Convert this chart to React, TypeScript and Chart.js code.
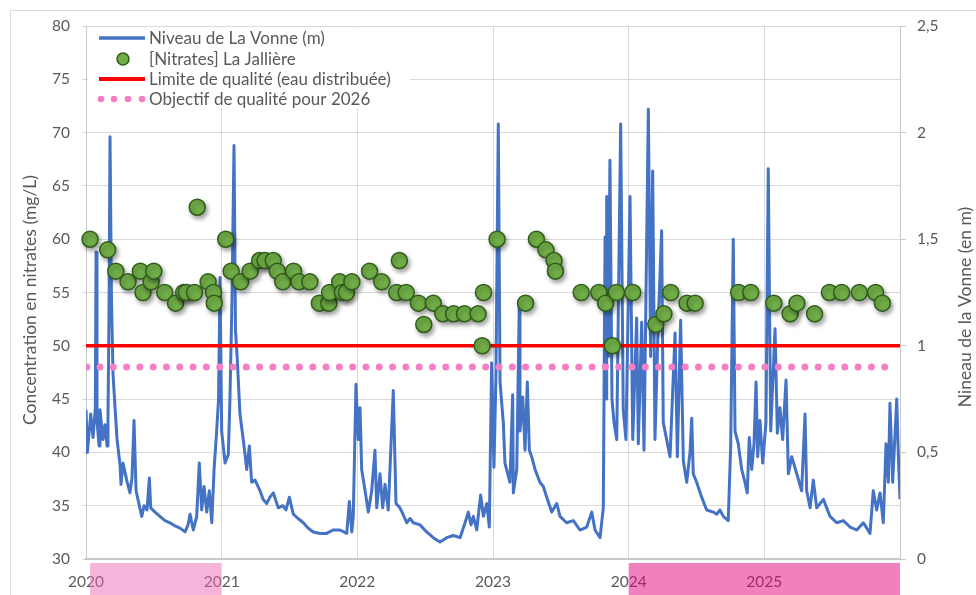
import React, { useEffect, useRef } from "react";
import { Chart, registerables } from "chart.js";

Chart.register(...registerables);

// ---- DATA ----
const yearTicks = [2020, 2021, 2022, 2023, 2024, 2025];
const leftTickValues = [30, 35, 40, 45, 50, 55, 60, 65, 70, 75, 80];
const rightTickLabels = ["0", "0,5", "1", "1,5", "2", "2,5"];

const qualityLimit = 50; // mg/L
const qualityObjective2026 = 48; // mg/L

// highlighted periods under the x axis [start, end]
const highlightPeriods = [
  [2020.03, 2021.0],
  [2024.0, 2026.0],
];
const highlightColors = ["rgba(240,105,182,0.5)", "rgba(226,2,126,0.5)"];

// [Nitrates] La Jallière : [year, mg/L]
const nitratePoints = [
  [2020.03, 60], [2020.16, 59], [2020.22, 57], [2020.31, 56], [2020.40, 57], [2020.42, 55],
  [2020.48, 56], [2020.50, 57], [2020.58, 55], [2020.66, 54], [2020.72, 55], [2020.74, 55],
  [2020.80, 55], [2020.82, 63], [2020.90, 56], [2020.94, 55], [2020.945, 54],
  [2021.03, 60], [2021.07, 57], [2021.14, 56], [2021.21, 57], [2021.28, 58], [2021.32, 58],
  [2021.38, 58], [2021.41, 57], [2021.45, 56], [2021.53, 57], [2021.57, 56], [2021.65, 56],
  [2021.72, 54], [2021.79, 54], [2021.795, 55], [2021.87, 56], [2021.89, 55], [2021.92, 55],
  [2021.96, 56],
  [2022.09, 57], [2022.18, 56], [2022.31, 58], [2022.29, 55], [2022.36, 55], [2022.45, 54],
  [2022.49, 52], [2022.56, 54], [2022.63, 53], [2022.71, 53], [2022.79, 53], [2022.89, 53],
  [2022.93, 55], [2022.92, 50],
  [2023.03, 60], [2023.24, 54], [2023.32, 60], [2023.39, 59], [2023.45, 58], [2023.46, 57],
  [2023.65, 55], [2023.78, 55], [2023.83, 54], [2023.88, 50], [2023.91, 55],
  [2024.03, 55], [2024.20, 52], [2024.26, 53], [2024.31, 55], [2024.43, 54], [2024.49, 54],
  [2024.81, 55], [2024.90, 55],
  [2025.07, 54], [2025.19, 53], [2025.24, 54], [2025.37, 53], [2025.48, 55], [2025.57, 55],
  [2025.70, 55], [2025.82, 55], [2025.87, 54],
];

// Niveau de La Vonne : [year, m]
const levelPoints = [
  [2020.000, 0.70], [2020.010, 0.50], [2020.035, 0.68], [2020.052, 0.57], [2020.069, 0.71],
  [2020.074, 1.44], [2020.081, 0.65], [2020.096, 0.53], [2020.103, 0.70], [2020.125, 0.56],
  [2020.140, 0.63], [2020.155, 0.53], [2020.162, 0.65], [2020.170, 1.18], [2020.177, 1.98],
  [2020.188, 1.21], [2020.199, 0.87], [2020.214, 0.71], [2020.229, 0.56], [2020.251, 0.44],
  [2020.258, 0.35], [2020.273, 0.45], [2020.300, 0.37], [2020.324, 0.31], [2020.339, 0.38],
  [2020.354, 0.65], [2020.369, 0.32], [2020.383, 0.28], [2020.411, 0.20], [2020.428, 0.25],
  [2020.450, 0.23], [2020.467, 0.38], [2020.477, 0.24], [2020.509, 0.22], [2020.545, 0.20],
  [2020.582, 0.18], [2020.619, 0.17], [2020.656, 0.155], [2020.693, 0.145], [2020.730, 0.127],
  [2020.752, 0.16], [2020.767, 0.21], [2020.791, 0.136], [2020.816, 0.20], [2020.835, 0.45],
  [2020.853, 0.23], [2020.870, 0.34], [2020.890, 0.22], [2020.909, 0.32], [2020.927, 0.17],
  [2020.944, 0.42], [2020.963, 0.60], [2020.977, 0.75], [2020.988, 1.32], [2021.000, 0.60],
  [2021.025, 0.45], [2021.049, 0.49], [2021.061, 0.75], [2021.076, 1.21], [2021.091, 1.94],
  [2021.102, 1.07], [2021.113, 0.96], [2021.135, 0.68], [2021.159, 0.56], [2021.185, 0.42],
  [2021.204, 0.53], [2021.221, 0.36], [2021.246, 0.37], [2021.283, 0.32], [2021.305, 0.28],
  [2021.332, 0.26], [2021.356, 0.29], [2021.381, 0.31], [2021.417, 0.24], [2021.452, 0.25],
  [2021.474, 0.23], [2021.499, 0.29], [2021.528, 0.21], [2021.563, 0.19], [2021.602, 0.17],
  [2021.636, 0.145], [2021.675, 0.127], [2021.725, 0.12], [2021.774, 0.12], [2021.821, 0.136],
  [2021.872, 0.136], [2021.922, 0.12], [2021.941, 0.27], [2021.959, 0.127], [2021.970, 0.20],
  [2021.990, 0.82], [2022.007, 0.56], [2022.020, 0.71], [2022.032, 0.42], [2022.057, 0.32],
  [2022.081, 0.22], [2022.106, 0.32], [2022.130, 0.51], [2022.143, 0.24], [2022.167, 0.40],
  [2022.187, 0.24], [2022.204, 0.35], [2022.228, 0.23], [2022.265, 0.79], [2022.285, 0.26],
  [2022.314, 0.24], [2022.337, 0.21], [2022.364, 0.17], [2022.388, 0.19], [2022.413, 0.17],
  [2022.462, 0.16], [2022.511, 0.127], [2022.560, 0.10], [2022.609, 0.08], [2022.659, 0.10],
  [2022.707, 0.11], [2022.757, 0.10], [2022.794, 0.17], [2022.818, 0.22], [2022.838, 0.16],
  [2022.855, 0.20], [2022.880, 0.136], [2022.909, 0.30], [2022.929, 0.20], [2022.954, 0.26],
  [2022.973, 0.15], [2022.990, 0.92], [2023.007, 0.43], [2023.022, 0.87], [2023.039, 2.04],
  [2023.052, 0.83], [2023.076, 0.64], [2023.088, 0.45], [2023.125, 0.36], [2023.145, 0.77],
  [2023.150, 0.31], [2023.175, 0.42], [2023.194, 1.21], [2023.199, 0.60], [2023.219, 0.76],
  [2023.236, 0.51], [2023.253, 0.83], [2023.268, 0.51], [2023.285, 0.48], [2023.310, 0.42],
  [2023.346, 0.36], [2023.371, 0.34], [2023.396, 0.29], [2023.433, 0.22], [2023.470, 0.26],
  [2023.494, 0.20], [2023.543, 0.17], [2023.592, 0.18], [2023.641, 0.136], [2023.691, 0.15],
  [2023.728, 0.22], [2023.752, 0.136], [2023.789, 0.10], [2023.813, 0.24], [2023.826, 1.51],
  [2023.835, 0.75], [2023.838, 1.70], [2023.850, 0.95], [2023.862, 1.87], [2023.877, 0.75],
  [2023.892, 0.64], [2023.912, 0.56], [2023.941, 2.04], [2023.960, 0.70], [2023.980, 0.56],
  [2024.010, 1.70], [2024.030, 0.56], [2024.059, 1.13], [2024.071, 0.54], [2024.096, 1.11],
  [2024.113, 0.51], [2024.145, 2.11], [2024.162, 0.95], [2024.177, 1.82], [2024.194, 0.56],
  [2024.218, 1.11], [2024.243, 1.54], [2024.255, 0.64], [2024.280, 0.56], [2024.305, 0.48],
  [2024.342, 1.06], [2024.359, 0.48], [2024.383, 1.12], [2024.403, 0.46], [2024.428, 0.36],
  [2024.452, 0.50], [2024.465, 0.66], [2024.476, 0.40], [2024.501, 0.36], [2024.538, 0.29],
  [2024.575, 0.23], [2024.624, 0.22], [2024.649, 0.21], [2024.673, 0.23], [2024.698, 0.20],
  [2024.734, 0.18], [2024.752, 0.53], [2024.771, 1.50], [2024.784, 0.60], [2024.808, 0.54],
  [2024.833, 0.42], [2024.857, 0.36], [2024.874, 0.31], [2024.889, 0.57], [2024.907, 0.42],
  [2024.924, 0.54], [2024.939, 0.83], [2024.951, 0.48], [2024.968, 0.65], [2024.988, 0.45],
  [2025.012, 0.64], [2025.029, 1.83], [2025.047, 0.60], [2025.079, 1.08], [2025.096, 0.59],
  [2025.115, 0.71], [2025.135, 0.56], [2025.160, 0.84], [2025.177, 0.40], [2025.202, 0.48],
  [2025.239, 0.40], [2025.275, 0.32], [2025.300, 0.68], [2025.312, 0.32], [2025.337, 0.24],
  [2025.361, 0.37], [2025.386, 0.24], [2025.435, 0.28], [2025.484, 0.20], [2025.534, 0.17],
  [2025.582, 0.18], [2025.632, 0.15], [2025.681, 0.136], [2025.730, 0.17], [2025.779, 0.12],
  [2025.803, 0.32], [2025.828, 0.23], [2025.853, 0.31], [2025.877, 0.17], [2025.897, 0.54],
  [2025.914, 0.36], [2025.926, 0.73], [2025.946, 0.36], [2025.976, 0.75], [2025.988, 0.48],
  [2026.000, 0.28],
];

const legendLabels = [
  "Niveau de La Vonne (m)",
  "[Nitrates] La Jallière",
  "Limite de qualité (eau distribuée)",
  "Objectif de qualité pour 2026",
];
const leftAxisTitle = "Concentration en nitrates (mg/L)";
const rightAxisTitle = "Nineau de la Vonne (en m)";

// ---- STYLE ----
const FONT = "Lato, 'Open Sans', sans-serif";
const TEXT = "#595959";
const GRID = "#d9d9d9";
const BLUE = "#4472C4";
const GREEN = "#70AD47";
const GREEN_DARK = "#2F5D1A";
const RED = "#FF0000";
const PINK = "#F47FC4";

const decorPlugin = {
  id: "decor",
  beforeDraw(chart: any) {
    const ctx = chart.ctx;
    ctx.save();
    ctx.fillStyle = "#ffffff";
    ctx.fillRect(0, 0, chart.width, chart.height);
    ctx.strokeStyle = "#d9d9d9";
    ctx.lineWidth = 1;
    ctx.strokeRect(10.5, 10.5, chart.width + 10, chart.height + 10);
    ctx.restore();
  },
  beforeDatasetDraw(chart: any, args: any) {
    if (args.index === 3) {
      const ctx = chart.ctx;
      ctx.save();
      ctx.shadowColor = "rgba(0,0,0,0.35)";
      ctx.shadowBlur = 4;
      ctx.shadowOffsetX = 2;
      ctx.shadowOffsetY = 3;
    }
  },
  afterDatasetDraw(chart: any, args: any) {
    if (args.index === 3) chart.ctx.restore();
  },
  afterDraw(chart: any) {
    const ctx = chart.ctx;
    const xs = chart.scales.x;
    const area = chart.chartArea;
    ctx.save();
    // highlighted periods below the axis
    highlightPeriods.forEach((p, i) => {
      const x0 = xs.getPixelForValue(p[0]);
      const x1 = xs.getPixelForValue(p[1]);
      ctx.fillStyle = highlightColors[i];
      ctx.fillRect(x0, area.bottom + 4, x1 - x0, chart.height - area.bottom - 4);
    });

    // legend
    const lx = area.left + 2;
    const ly = area.top + 2;
    ctx.fillStyle = "#ffffff";
    ctx.fillRect(lx, ly, 322, 80);
    const rows = [38, 59, 79, 99];
    const sx0 = 99;
    const sx1 = 145;
    ctx.lineCap = "butt";
    ctx.strokeStyle = BLUE;
    ctx.lineWidth = 3.5;
    ctx.beginPath();
    ctx.moveTo(sx0, rows[0]);
    ctx.lineTo(sx1, rows[0]);
    ctx.stroke();
    ctx.fillStyle = GREEN;
    ctx.strokeStyle = GREEN_DARK;
    ctx.lineWidth = 1.5;
    ctx.beginPath();
    ctx.arc(123, rows[1], 6, 0, Math.PI * 2);
    ctx.fill();
    ctx.stroke();
    ctx.strokeStyle = RED;
    ctx.lineWidth = 4;
    ctx.beginPath();
    ctx.moveTo(sx0, rows[2]);
    ctx.lineTo(sx1, rows[2]);
    ctx.stroke();
    ctx.fillStyle = PINK;
    [101, 114, 128, 142].forEach((dx) => {
      ctx.beginPath();
      ctx.arc(dx, rows[3], 3.3, 0, Math.PI * 2);
      ctx.fill();
    });
    ctx.fillStyle = TEXT;
    ctx.font = `17px ${FONT}`;
    ctx.textAlign = "left";
    ctx.textBaseline = "middle";
    legendLabels.forEach((t, i) => ctx.fillText(t, 149, rows[i] + 1));

    // axis titles
    ctx.font = `17.5px ${FONT}`;
    ctx.textAlign = "center";
    ctx.save();
    ctx.translate(30, 300);
    ctx.rotate(-Math.PI / 2);
    ctx.fillText(leftAxisTitle, 0, 0);
    ctx.restore();
    ctx.save();
    ctx.translate(965, 307);
    ctx.rotate(-Math.PI / 2);
    ctx.fillText(rightAxisTitle, 0, 0);
    ctx.restore();
    ctx.restore();
  },
};

export default function App() {
  const canvasRef = useRef<HTMLCanvasElement | null>(null);

  useEffect(() => {
    const canvas = canvasRef.current;
    if (!canvas) return;
    const chart = new Chart(canvas, {
      type: "scatter",
      data: {
        datasets: [
          {
            label: legendLabels[0],
            data: levelPoints.map((p) => ({ x: p[0], y: p[1] })),
            yAxisID: "y1",
            showLine: true,
            borderColor: BLUE,
            borderWidth: 3,
            borderJoinStyle: "round",
            pointRadius: 0,
            tension: 0,
            order: 4,
          },
          {
            label: legendLabels[2],
            data: [
              { x: 2020, y: qualityLimit },
              { x: 2026, y: qualityLimit },
            ],
            yAxisID: "y",
            showLine: true,
            borderColor: RED,
            borderWidth: 3.5,
            pointRadius: 0,
            order: 3,
          },
          {
            label: legendLabels[3],
            data: [
              { x: 2020.005, y: qualityObjective2026 },
              { x: 2025.95, y: qualityObjective2026 },
            ],
            yAxisID: "y",
            showLine: true,
            borderColor: PINK,
            borderWidth: 7,
            borderDash: [0, 13.3],
            borderCapStyle: "round",
            pointRadius: 0,
            order: 2,
          },
          {
            label: legendLabels[1],
            data: nitratePoints.map((p) => ({ x: p[0], y: p[1] })),
            yAxisID: "y",
            showLine: false,
            backgroundColor: GREEN,
            borderColor: GREEN_DARK,
            borderWidth: 1.5,
            pointRadius: 8,
            clip: false,
            order: 1,
          },
        ],
      },
      options: {
        responsive: false,
        animation: false,
        devicePixelRatio: 1,
        layout: { padding: { top: 26, left: 0, right: 0, bottom: 0 } },
        plugins: {
          legend: { display: false },
          tooltip: { enabled: false },
        },
        scales: {
          x: {
            type: "linear",
            min: 2020,
            max: 2026,
            afterFit: (s: any) => {
              s.height = 36;
            },
            afterBuildTicks: (s: any) => {
              s.ticks = [...yearTicks, 2026].map((v) => ({ value: v }));
            },
            ticks: {
              color: TEXT,
              font: { family: FONT, size: 15.5 },
              padding: 14,
              maxRotation: 0,
              callback: (v: any) => (yearTicks.includes(v) ? String(v) : ""),
            },
            grid: { color: GRID, lineWidth: 1, drawTicks: false },
            border: { color: "#c8c8c8", width: 2 },
          },
          y: {
            position: "left",
            min: 30,
            max: 80,
            afterFit: (s: any) => {
              s.width = 86;
            },
            afterBuildTicks: (s: any) => {
              s.ticks = leftTickValues.map((v) => ({ value: v }));
            },
            ticks: {
              color: TEXT,
              font: { family: FONT, size: 15.5 },
              padding: 12,
              callback: (v: any) => String(v),
            },
            grid: { color: GRID, lineWidth: 1, tickLength: 4, tickColor: GRID },
            border: { color: "#c8c8c8", width: 1 },
          },
          y1: {
            position: "right",
            min: 0,
            max: 2.5,
            afterFit: (s: any) => {
              s.width = 76;
            },
            afterBuildTicks: (s: any) => {
              s.ticks = rightTickLabels.map((_, i) => ({ value: i * 0.5 }));
            },
            ticks: {
              color: TEXT,
              font: { family: FONT, size: 15.5 },
              padding: 11,
              callback: (_v: any, i: number) => rightTickLabels[i],
            },
            grid: { drawOnChartArea: false, tickLength: 6, color: "#c8c8c8" },
            border: { color: "#c8c8c8", width: 1 },
          },
        },
      },
      plugins: [decorPlugin],
    } as any);
    return () => chart.destroy();
  }, []);

  return (
    <div style={{ position: "fixed", left: 0, top: 0, width: 976, height: 595, background: "#fff" }}>
      <canvas ref={canvasRef} width={976} height={595} style={{ display: "block" }} />
    </div>
  );
}
